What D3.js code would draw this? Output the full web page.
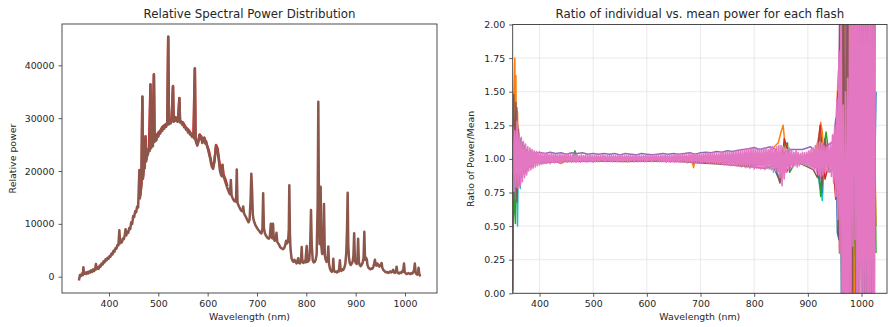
<!DOCTYPE html>
<html><head><meta charset="utf-8">
<script src="https://cdn.jsdelivr.net/npm/d3@7"></script>
<style>
html,body{margin:0;padding:0;background:#fff;}
svg{display:block;font-family:"DejaVu Sans",sans-serif;}
</style></head><body>
<svg id="chart" width="890" height="327"></svg>
<script>
// ---- Relative spectral power of the flash, [wavelength nm, power] ----
const brownFlash = [
[339,-700],[341,300],[343,100],[345,600],[347,300],[348,1800],[349.5,500],[352,800],[354,500],[356,900],[358,600],[360,1000],[362,800],[364,1200],[366,900],[368,1400],[370,1100],[372,1500],[373.5,2400],[375,1400],[377,1800],[379,1500],[381,2100],[383,1900],[385,2500],[387,2300],[389,2900],[391,2700],[393,3300],[395,3100],[397,3600],[399,3400],[401,3900],[403,3800],[405,4400],[407,4200],[409,4900],[411,4700],[413,5400],[415,5300],[417,6000],[419,5900],[421,8800],[422.5,6300],[424,6700],[426,6500],[428,7200],[430,7100],[432,7900],[433.5,9000],[435,7800],[437,8500],[439,8300],[441,9200],[443,9000],[445,10300],[447,10000],[449,11500],[451,11300],[453,12400],[455,12200],[457,13300],[459,13100],[461.5,20200],[462.5,14800],[464,15700],[465.5,17500],[467.6,34000],[468.8,18500],[470,19800],[471.5,21200],[472.5,20500],[474,26500],[475.3,21800],[477,22800],[479,23200],[481,24200],[482.5,23800],[484,36300],[485.3,24300],[487,25000],[489,24700],[491,38200],[492.3,25500],[494,26100],[496,25800],[498,26700],[500,26500],[502,27300],[504,27100],[506,27900],[508,27600],[510,28300],[512,28000],[514,28700],[516,28400],[518,29000],[520,45400],[521.3,28800],[523,29400],[525,29000],[527,29800],[529.7,36000],[531,29300],[533,30100],[535,29500],[537,30000],[539,29300],[540.5,29800],[542.6,33750],[544,29200],[546,29400],[548,28800],[550,29000],[552,28300],[554,28500],[556,27800],[558,28000],[560,27300],[562,27600],[564,26900],[566,27100],[568,26500],[570,26800],[572,26200],[574,39400],[575.3,25900],[577,25300],[579,24800],[581,25400],[583,26800],[585,26000],[587,26500],[589,25300],[591,25800],[593,26300],[595,25200],[597,25600],[599,24600],[601,24000],[603,23200],[605,22400],[607,21300],[609,20700],[611,20400],[613,21500],[615,23000],[617,24800],[619,24200],[621,23200],[623,21800],[625,20000],[627,19300],[628.5,19000],[630,21000],[631.5,19200],[633,18800],[635,18200],[637,17600],[639,17000],[641,16500],[643,16000],[645,15600],[647,18300],[648.5,15400],[650,15000],[652,14600],[654,14300],[656,14600],[657.5,14200],[659,20300],[660.5,14000],[662,13600],[664,13200],[666,12800],[668,12500],[670,12400],[672,13300],[673.5,12100],[675,11700],[677,11400],[679,11000],[681,10600],[683,10300],[685,10800],[687,14500],[688.5,19500],[690,16500],[691.5,11800],[693,10800],[695,10200],[697,9700],[699,9400],[701,9100],[703,8800],[705,8600],[707,8300],[709,8200],[711,9000],[712.5,15800],[714,9200],[716,8200],[718,7800],[720,7500],[722,7300],[724,7200],[726,7600],[728,10000],[729.5,7400],[731,7300],[732.5,10000],[734,7100],[736,6800],[738,7000],[739.5,8300],[741,6600],[743,6300],[745,6000],[747,5600],[749,5400],[751,5300],[753,5200],[755,5400],[757,5900],[759,6800],[761,6300],[763,6600],[764.5,9000],[765.5,17300],[766.8,8000],[768,5200],[770,3500],[772,3000],[774,2800],[776,3200],[778,2900],[780,2500],[782,3000],[783.5,3500],[785,2600],[787,2500],[789,2900],[790.6,5600],[792,2800],[794,2600],[796,2900],[798,2700],[800.7,5800],[802,2800],[804,2900],[806,3200],[808,6500],[809.5,12600],[811,6000],[813,3100],[815,2700],[817,2800],[819,3200],[821,4300],[823,14000],[824.3,33100],[825.5,15000],[827,6200],[828,9000],[829,17000],[830.2,6000],[832,4300],[834,4600],[835.8,13750],[837.5,4000],[839,3300],[841,2800],[843,3300],[844.6,5700],[846,2400],[848,1500],[850,1100],[852,900],[853.5,1300],[854.7,3400],[856,1200],[858,900],[860,1000],[862,800],[864,1100],[866,1000],[868,3100],[869.5,1300],[871,1100],[873,1400],[875,1300],[877,1700],[879,2400],[881,4500],[882.5,9000],[883.8,15900],[885,6000],[886.5,3500],[888,2600],[890,2200],[892,2500],[894,2900],[895.5,4000],[897,8200],[898.5,3200],[900,2600],[902,2400],[903.5,3000],[905,7200],[906.5,2800],[908,2300],[910,2000],[912,2200],[914,2600],[916,3500],[917.6,8500],[919,3200],[921,3600],[922.5,3300],[924,2200],[926,1700],[928,1500],[930,1400],[932,1600],[934,1500],[936,1900],[937.5,2500],[939,3200],[940.5,2300],[942,2100],[944,2500],[946,2200],[948,1900],[950,2200],[952.7,2600],[954,1700],[956,1300],[958,1100],[960,900],[962,800],[964,900],[966,700],[968,800],[970,1000],[972,800],[974,900],[976,1300],[978,800],[980,700],[981.5,1000],[983,1900],[984.5,900],[986,700],[988,600],[990,800],[992,700],[994,1000],[996,900],[998,2500],[999.5,900],[1001,700],[1003,500],[1005,600],[1007,700],[1009,600],[1011,500],[1013,700],[1015,600],[1017,900],[1018.5,1300],[1020,2500],[1021.5,800],[1023,500],[1025,400],[1026.5,1000],[1027.5,1700],[1029,500],[1030.5,200],[1031.8,100]
];

// a slightly brighter flash, peeking out above the band near its maximum
const redFlash = [
[462,15100],[464,16000],[466,17800],[467.6,34100],[469,19000],[471,21400],[474,26600],[475.5,22200],[478,23300],[481,24500],[484,36400],[485.5,24700],[488,25300],[491,38300],[492.5,25900],[495,26500],[498,27000],[501,27400],[504,27600],[507,28200],[510,28500],[513,28700],[516,28900],[518.5,29200],[520,45400],[521.5,29100],[524,29600],[527,30000],[529.7,36100],[531,29700],[534,30200],[537,30100],[540,29900],[542.6,33800],[544,29500],[547,29300],[550,29200],[553,28700],[556,28200],[559,28000],[562,27700],[565,27200],[568,26800],[571,26600],[574,39400],[575.5,26100],[578,25300],[581,25600],[584,26900],[587,26500],[590,25700],[593,26300],[596,25600],[599,24800],[602,24000],[605,22700],[608,21400],[611,20700],[614,22000],[617,24900],[620,24300],[623,22200],[626,20000],[628,19500],[630,21200],[632,19400],[636,18400],[640,17100]
];

// ---- Ratio of each flash to the mean, [wavelength nm, ratio] ----
const ratioCyan = [[350,1.0],[353,1.15],[355,0.62],[357,1.29],[359,0.5],[361,1.22],[364,0.78],[368,1.1],[373,0.9],[380,1.04],[390,0.97],[420,1.0],[500,0.99],[600,1.01],[700,0.99],[780,1.0],[820,0.95],[850,0.9],[870,1.0],[900,0.96],[918,0.93],[924,0.8],[927,0.69],[930,0.95],[940,1.05],[950,0.9],[955,1.2],[958,0.4],[961,2.4],[966,-0.3],[972,2.4],[980,-0.3],[987,2.4],[995,-0.3],[1002,2.4],[1009,-0.3],[1016,2.4],[1024,-0.3]];
const ratioBlue = [[350,0.95],[353,1.15],[356,0.8],[359,1.12],[362,0.85],[366,1.1],[370,0.9],[376,1.06],[382,0.95],[390,1.03],[400,0.97],[430,1.02],[470,0.985],[520,1.01],[580,0.99],[640,1.01],[700,0.985],[760,1.02],[800,0.95],[830,1.0],[848,0.83],[852,1.05],[880,0.97],[915,1.05],[922,0.8],[926,0.75],[930,1.1],[945,0.95],[952,1.3],[955,0.45],[958,0.4],[960,2.3],[963,-0.4],[968,2.4],[974,0.3],[980,2.5],[986,-0.3],[992,2.4],[998,0.2],[1004,2.5],[1010,-0.3],[1016,2.4],[1022,0.2],[1027,1.5]];
const ratioOrange = [[350,1.1],[352,1.45],[354,1.75],[355,1.15],[356,1.62],[357,0.9],[359,1.35],[361,0.85],[364,1.12],[368,0.88],[372,1.06],[376,0.9],[381,1.03],[386,0.94],[392,1.02],[400,0.975],[420,1.0],[440,0.965],[450,0.99],[480,1.0],[520,0.99],[560,1.01],[600,0.985],[640,1.0],[684,0.99],[687,0.935],[690,1.0],[720,0.985],[760,1.01],[800,0.97],[830,1.06],[845,1.12],[850,1.2],[854,1.25],[857,1.12],[860,0.96],[870,1.02],[885,0.97],[900,1.02],[915,1.06],[921,1.18],[924,1.27],[927,1.2],[931,0.9],[940,1.05],[950,1.1],[954,1.4],[957,1.66],[959,0.6],[962,2.5],[965,-0.3],[969,2.5],[975,0.2],[981,2.5],[987,-0.3],[994,2.5],[1000,0.1],[1007,2.5],[1013,-0.2],[1019,2.5],[1027,0.5]];
const ratioGreen = [[350,0.9],[351,0.55],[353,0.75],[355,0.52],[357,1.1],[360,0.8],[363,1.15],[367,0.87],[371,1.08],[376,0.92],[382,1.04],[390,0.97],[400,1.01],[430,0.99],[462,1.0],[466,1.06],[470,1.0],[520,0.99],[600,1.01],[680,0.99],[740,1.0],[790,0.96],[830,1.04],[848,0.95],[856,1.1],[862,1.12],[866,0.9],[880,1.0],[905,0.97],[920,0.92],[924,0.72],[928,1.05],[934,1.2],[940,1.0],[950,0.9],[956,1.3],[960,0.4],[963,2.4],[966,-0.3],[976,2.6],[977,-0.4],[984,2.4],[990,-0.3],[997,2.4],[1001,-0.4],[1008,2.5],[1015,-0.3],[1021,2.4],[1027,0.3]];
const ratioRed = [[350,0.02],[351,0.9],[353,1.2],[356,0.75],[359,1.25],[362,0.85],[366,1.12],[370,0.9],[375,1.07],[381,0.94],[388,1.03],[398,0.975],[430,1.0],[480,0.99],[540,1.0],[600,0.985],[660,0.99],[700,0.975],[730,0.97],[760,0.975],[775,0.955],[790,0.95],[810,0.96],[840,1.0],[850,0.88],[856,1.15],[870,0.96],[900,1.03],[918,1.05],[923,1.25],[926,1.1],[932,0.85],[945,1.05],[952,0.7],[956,1.5],[959,0.3],[962,2.5],[968,-0.3],[973,2.4],[979,-0.3],[986,2.5],[993,-0.3],[999,2.4],[1006,-0.2],[1012,2.5],[1018,-0.3],[1024,2.4]];
const ratioPurple = [[350,1.05],[352,1.3],[355,0.7],[358,1.38],[361,0.82],[364,1.15],[368,0.9],[372,1.1],[377,0.93],[383,1.06],[390,1.04],[400,1.05],[410,1.04],[420,1.05],[430,1.04],[440,1.045],[450,1.035],[460,1.045],[470,1.04],[480,1.045],[490,1.035],[500,1.04],[510,1.035],[520,1.04],[530,1.035],[540,1.04],[550,1.03],[560,1.04],[570,1.035],[580,1.03],[590,1.04],[600,1.035],[610,1.03],[620,1.035],[630,1.04],[640,1.035],[650,1.04],[660,1.035],[670,1.04],[680,1.045],[690,1.035],[700,1.045],[710,1.05],[720,1.045],[730,1.055],[740,1.05],[750,1.06],[760,1.055],[770,1.065],[780,1.07],[790,1.075],[800,1.085],[810,1.07],[820,1.08],[830,1.09],[840,1.07],[850,0.85],[856,1.05],[870,1.07],[890,1.07],[905,1.09],[915,1.05],[925,0.85],[935,1.1],[945,1.12],[952,1.2],[956,0.5],[960,2.4],[964,-0.3],[971,2.5],[978,-0.2],[985,2.4],[991,-0.3],[998,2.5],[1004,-0.3],[1011,2.4],[1017,-0.2],[1023,2.5]];
const ratioBrown = [[350,0.0],[351,0.95],[352,1.48],[354,0.9],[356,1.42],[358,0.68],[361,1.18],[364,0.8],[368,1.12],[372,0.88],[377,1.07],[383,0.94],[390,1.02],[400,0.97],[440,0.98],[500,0.985],[560,0.98],[620,0.985],[660,0.98],[700,0.97],[720,0.965],[740,0.96],[760,0.955],[780,0.945],[800,0.94],[820,0.93],[840,0.95],[848,0.82],[852,1.0],[860,0.9],[870,0.98],[890,0.96],[910,0.92],[918,0.86],[922,1.2],[926,0.8],[932,1.15],[940,0.9],[948,0.95],[953,1.3],[957,0.5],[960,2.5],[963,0.0],[966,2.6],[970,-0.3],[974,2.5],[982,-0.3],[988,2.5],[994,-0.2],[1000,2.5],[1006,-0.3],[1013,2.6],[1019,-0.3],[1026,2.5]];

// last flash, sampled every 2 nm from 350 nm to 1026 nm
const ratioPinkStart = 350, ratioPinkStep = 2;
const ratioPink = [
1.24,0.76,1.21,0.79,1.28,0.78,1.19,0.80,1.16,0.83,
1.13,0.86,1.11,0.88,1.09,0.91,1.08,0.92,1.07,0.93,
1.06,0.94,1.055,0.95,1.05,0.955,1.045,0.96,1.04,0.965,
1.04,0.965,1.045,0.97,1.035,0.965,1.04,0.975,1.035,0.97,
1.035,0.975,1.03,0.97,1.035,0.975,1.03,0.975,1.035,0.98,
1.03,0.975,1.035,0.98,1.03,0.975,1.03,0.98,1.025,0.975,
1.03,0.98,1.025,0.975,1.03,0.98,1.025,0.98,1.03,0.975,
1.025,0.98,1.03,0.98,1.025,0.975,1.025,0.98,1.03,0.98,
1.025,0.98,1.025,0.985,1.03,0.98,1.025,0.98,1.025,0.985,
1.025,0.98,1.03,0.98,1.025,0.985,1.025,0.98,1.025,0.98,
1.03,0.985,1.025,0.98,1.025,0.985,1.025,0.98,1.03,0.98,
1.025,0.985,1.025,0.98,1.025,0.985,1.03,0.98,1.025,0.98,
1.025,0.985,1.025,0.98,1.03,0.98,1.025,0.985,1.025,0.98,
1.025,0.98,1.03,0.985,1.025,0.98,1.025,0.98,1.03,0.98,
1.025,0.98,1.03,0.975,1.03,0.98,1.025,0.975,1.03,0.98,
1.03,0.975,1.035,0.98,1.03,0.975,1.035,0.975,1.03,0.98,
1.035,0.975,1.03,0.97,1.035,0.975,1.04,0.97,1.035,0.975,
1.04,0.97,1.035,0.975,1.04,0.97,1.035,0.97,1.04,0.975,
1.04,0.97,1.045,0.965,1.04,0.97,1.045,0.965,1.04,0.965,
1.045,0.96,1.04,0.965,1.05,0.96,1.045,0.955,1.05,0.96,
1.05,0.955,1.055,0.95,1.05,0.955,1.06,0.95,1.055,0.945,
1.06,0.95,1.065,0.94,1.06,0.945,1.07,0.935,1.075,0.94,
1.07,0.93,1.08,0.94,1.075,0.925,1.08,0.93,1.07,0.93,
1.075,0.925,1.07,0.93,1.08,0.92,1.075,0.93,1.07,0.925,
1.08,0.92,1.09,0.9,1.08,0.91,1.09,0.9,1.1,0.86,
1.1,0.8,1.09,0.85,1.08,0.9,1.07,0.92,1.08,0.93,
1.06,0.94,1.05,0.95,1.06,0.94,1.05,0.95,1.04,0.96,
1.05,0.95,1.045,0.955,1.05,0.95,1.06,0.94,1.07,0.93,
1.08,0.92,1.1,0.9,1.12,0.88,1.13,0.87,1.12,0.88,
1.1,0.9,1.09,0.91,1.1,0.9,1.12,0.87,1.18,0.82,
1.25,0.72,1.45,0.55,1.8,0.3,2.6,-0.5,1.4,-0.5,
1.5,-0.5,1.6,-0.5,2.6,-0.5,2.6,0.35,2.6,0.4,
2.6,-0.5,2.6,-0.5,2.6,-0.5,2.6,-0.5,2.6,-0.5,
2.6,-0.5,2.6,-0.5,2.6,-0.5,2.6,-0.5,2.6
];

// axis ticks
const powerXTicks = [400, 500, 600, 700, 800, 900, 1000];
const powerYTicks = [0, 10000, 20000, 30000, 40000];
const ratioXTicks = [400, 500, 600, 700, 800, 900, 1000];
const ratioYTicks = [0, 0.25, 0.5, 0.75, 1.0, 1.25, 1.5, 1.75, 2.0];

const C = {blue:'#1f77b4', orange:'#ff7f0e', green:'#2ca02c', red:'#d62728', purple:'#9467bd', brown:'#8c564b', pink:'#e377c2', cyan:'#17becf'};
const TXT = '#262626', FS = 9.4, TITLE_FS = 11.8;

const svg = d3.select('#chart');

function drawPanel(cfg) {
  const {box, xDomain, yDomain, xTicks, yTicks, yFormat, grid, id} = cfg;
  const x = d3.scaleLinear().domain(xDomain).range([box.x0, box.x1]);
  const y = d3.scaleLinear().domain(yDomain).range([box.y1, box.y0]);
  const g = svg.append('g');

  g.append('clipPath').attr('id', id).append('rect')
    .attr('x', box.x0).attr('y', box.y0).attr('width', box.x1 - box.x0).attr('height', box.y1 - box.y0);

  if (grid) {
    g.append('g').selectAll('line').data(xTicks).join('line')
      .attr('x1', d => x(d)).attr('x2', d => x(d)).attr('y1', box.y0).attr('y2', box.y1)
      .attr('stroke', '#e4e4e4').attr('stroke-width', 0.8);
    g.append('g').selectAll('line').data(yTicks).join('line')
      .attr('y1', d => y(d)).attr('y2', d => y(d)).attr('x1', box.x0).attr('x2', box.x1)
      .attr('stroke', '#e4e4e4').attr('stroke-width', 0.8);
  }

  const lines = g.append('g').attr('clip-path', `url(#${id})`);

  const xa = g.append('g').attr('transform', `translate(0,${box.y1})`)
    .call(d3.axisBottom(x).tickValues(xTicks).tickSize(3.5).tickPadding(3.5).tickFormat(d3.format('d')));
  const ya = g.append('g').attr('transform', `translate(${box.x0},0)`)
    .call(d3.axisLeft(y).tickValues(yTicks).tickSize(3.5).tickPadding(4).tickFormat(yFormat));
  [xa, ya].forEach(a => {
    a.select('.domain').remove();
    a.selectAll('line').attr('stroke', '#333').attr('stroke-width', 0.8);
    a.selectAll('text').attr('fill', TXT).style('font-size', FS + 'px').style('font-family', '"DejaVu Sans",sans-serif');
  });

  return {x, y, g, lines, box};
}

function frame(p) {
  p.g.append('rect').attr('x', p.box.x0).attr('y', p.box.y0)
    .attr('width', p.box.x1 - p.box.x0).attr('height', p.box.y1 - p.box.y0)
    .attr('fill', 'none').attr('stroke', '#3a3a3a').attr('stroke-width', 0.9);
}

function text(str, x, y, size, rotate) {
  const t = svg.append('text').attr('text-anchor', 'middle').attr('fill', TXT)
    .style('font-size', size + 'px').text(str);
  if (rotate) t.attr('transform', `translate(${x},${y}) rotate(-90)`);
  else t.attr('x', x).attr('y', y);
}

// ---- left panel: spectral power ----
const P = drawPanel({
  id: 'clipPower',
  box: {x0: 62, x1: 437, y0: 24, y1: 293},
  xDomain: [304.7, 1064.9], yDomain: [-3085, 47820],
  xTicks: powerXTicks, yTicks: powerYTicks, yFormat: d3.format('d'), grid: false
});
const powerLine = d3.line().x(d => P.x(d[0])).y(d => P.y(d[1]));
[[redFlash, C.red], [brownFlash, C.brown]].forEach(([data, col]) => {
  P.lines.append('path').attr('d', powerLine(data)).attr('fill', 'none')
    .attr('stroke', col).attr('stroke-width', 2.5).attr('stroke-linejoin', 'round');
});
frame(P);

// ---- right panel: ratio to mean ----
const R = drawPanel({
  id: 'clipRatio',
  box: {x0: 512.7, x1: 887, y0: 24.5, y1: 293.3},
  xDomain: [350, 1047.5], yDomain: [0, 2],
  xTicks: ratioXTicks, yTicks: ratioYTicks, yFormat: d3.format('.2f'), grid: true
});
const ratioLine = d3.line().x(d => R.x(d[0])).y(d => R.y(d[1]));
[[ratioCyan, C.cyan], [ratioBlue, C.blue], [ratioOrange, C.orange], [ratioGreen, C.green],
 [ratioRed, C.red], [ratioPurple, C.purple], [ratioBrown, C.brown]].forEach(([data, col]) => {
  R.lines.append('path').attr('d', ratioLine(data)).attr('fill', 'none')
    .attr('stroke', col).attr('stroke-width', 1.5).attr('stroke-linejoin', 'round');
});
const pinkPts = ratioPink.map((v, i) => [ratioPinkStart + i * ratioPinkStep, v]);
R.lines.append('path').attr('d', ratioLine(pinkPts)).attr('fill', 'none')
  .attr('stroke', C.pink).attr('stroke-width', 1.6).attr('stroke-linejoin', 'round');
frame(R);

// ---- titles and axis labels ----
text('Relative Spectral Power Distribution', 249.5, 17.9, TITLE_FS);
text('Ratio of individual vs. mean power for each flash', 699.8, 17.9, TITLE_FS);
text('Wavelength (nm)', 249.5, 320.4, FS);
text('Wavelength (nm)', 699.8, 320.4, FS);
text('Relative power', 15.5, 158.5, FS, true);
text('Ratio of Power/Mean', 473.8, 158.9, FS, true);
</script>
</body></html>
